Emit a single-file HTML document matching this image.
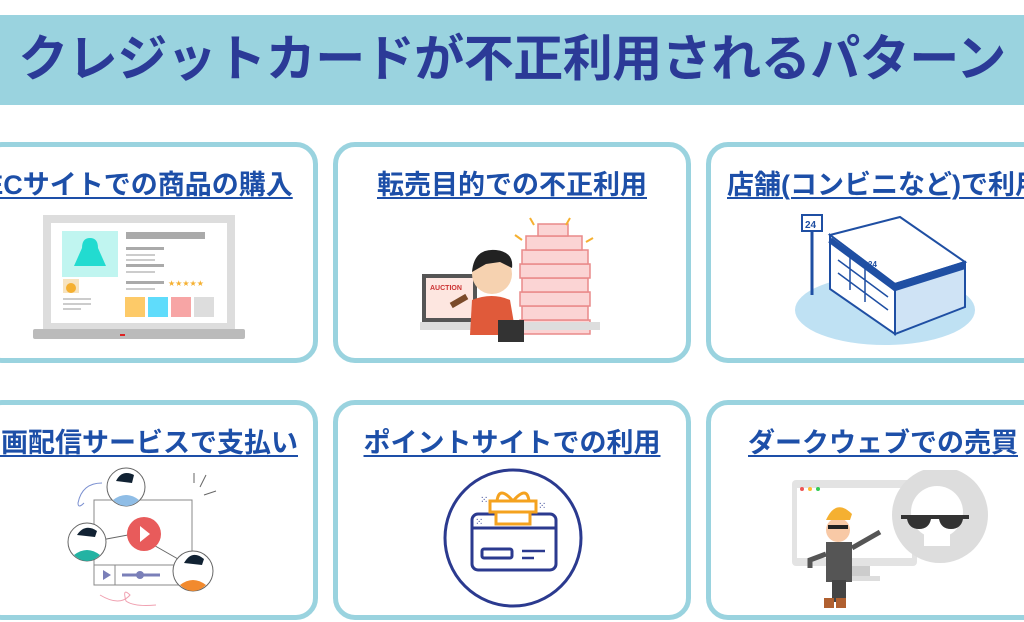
<!DOCTYPE html>
<html><head><meta charset="utf-8"><style>
body{margin:0;width:1024px;height:622px;overflow:hidden;background:#fff;position:relative;font-family:"Liberation Sans","Noto Sans CJK JP",sans-serif}
.banner{position:absolute;left:0;top:15px;width:1024px;height:90px;background:#9ad3df;}
.title{position:absolute;left:-20px;width:1064px;top:22px;text-align:center;font-size:50px;font-weight:bold;color:#2b3a97;line-height:74px;white-space:nowrap;letter-spacing:-0.5px}
.card{position:absolute;border:5px solid #9ad3df;border-radius:22px;background:#fff;box-sizing:border-box}
.lbl{position:absolute;white-space:nowrap;text-align:center;font-size:27px;font-weight:bold;color:#1d4fa8;text-decoration:underline;text-decoration-thickness:2px;text-underline-offset:3px;line-height:32px}
svg{position:absolute}
</style></head><body>
<div class="banner"></div>
<div class="title">クレジットカードが不正利用されるパターン</div>

<div class="card" style="left:-20px;top:142px;width:338px;height:221px"></div>
<div class="card" style="left:333px;top:142px;width:358px;height:221px"></div>
<div class="card" style="left:706px;top:142px;width:340px;height:221px"></div>
<div class="card" style="left:-20px;top:400px;width:338px;height:220px"></div>
<div class="card" style="left:333px;top:400px;width:358px;height:220px"></div>
<div class="card" style="left:706px;top:400px;width:340px;height:220px"></div>

<div class="lbl" style="left:-71px;width:420px;top:169px">ECサイトでの商品の購入</div>
<div class="lbl" style="left:312px;width:400px;top:169px">転売目的での不正利用</div>
<div class="lbl" style="left:727px;top:169px">店舗(コンビニなど)で利用</div>
<div class="lbl" style="left:-74px;width:420px;top:427px">動画配信サービスで支払い</div>
<div class="lbl" style="left:312px;width:400px;top:427px">ポイントサイトでの利用</div>
<div class="lbl" style="left:683px;width:400px;top:427px">ダークウェブでの売買</div>

<!-- laptop -->
<svg style="left:0;top:200px" width="330" height="160">
<rect x="43" y="15" width="192" height="115" fill="#ddd"/>
<rect x="51" y="23" width="176" height="100" fill="#fff"/>
<rect x="62" y="31" width="56" height="46" fill="#c0f5f0"/>
<path d="M90 38 q-8 0 -8 10 l-8 18 l32 0 l-8 -18 q0 -10 -8 -10z" fill="#22dbd0"/>
<rect x="63" y="79" width="16" height="14" fill="#f7e3bf"/>
<circle cx="71" cy="88" r="5" fill="#f5b031"/>
<rect x="126" y="32" width="79" height="7" fill="#aaa"/>
<rect x="126" y="47" width="38" height="3" fill="#aaa"/><rect x="126" y="54" width="29" height="2" fill="#ccc"/><rect x="126" y="59" width="29" height="2" fill="#ccc"/>
<rect x="126" y="64" width="38" height="3" fill="#aaa"/><rect x="126" y="71" width="29" height="2" fill="#ccc"/>
<rect x="126" y="81" width="38" height="3" fill="#aaa"/><rect x="126" y="88" width="29" height="2" fill="#ccc"/>
<text x="168" y="86" font-size="8" fill="#f5b031" font-family="DejaVu Sans">★★★★★</text>
<rect x="63" y="98" width="28" height="2" fill="#ccc"/><rect x="63" y="103" width="28" height="2" fill="#ccc"/><rect x="63" y="108" width="18" height="2" fill="#ccc"/>
<rect x="125" y="97" width="20" height="20" fill="#fdca68"/><rect x="148" y="97" width="20" height="20" fill="#5fdcfb"/><rect x="171" y="97" width="20" height="20" fill="#f7a5a5"/><rect x="194" y="97" width="20" height="20" fill="#ddd"/>
<rect x="33" y="129" width="212" height="10" rx="2" fill="#bbb"/>
<rect x="120" y="134" width="5" height="2" fill="#d22"/>
</svg>

<!-- reseller -->
<svg style="left:410px;top:210px" width="200" height="135">
<g stroke="#e98a8a" stroke-width="1.5" fill="#fbd4d4">
<rect x="110" y="110" width="70" height="14"/><rect x="112" y="96" width="66" height="14"/><rect x="110" y="82" width="70" height="14"/><rect x="112" y="68" width="66" height="14"/><rect x="110" y="54" width="70" height="14"/><rect x="112" y="40" width="66" height="14"/><rect x="116" y="26" width="56" height="14"/><rect x="128" y="14" width="30" height="12"/></g>
<g stroke="#f5b031" stroke-width="2"><line x1="105" y1="25" x2="112" y2="30"/><line x1="120" y1="8" x2="124" y2="15"/><line x1="160" y1="8" x2="156" y2="15"/><line x1="183" y1="28" x2="176" y2="32"/></g>
<rect x="12" y="64" width="55" height="48" fill="#555"/><rect x="16" y="68" width="47" height="40" fill="#fde6e0"/>
<text x="20" y="80" font-size="7" font-weight="bold" fill="#c33">AUCTION</text>
<rect x="10" y="112" width="180" height="8" fill="#ddd"/>
<circle cx="82" cy="64" r="20" fill="#f6d2b0"/><path d="M62 62 q2 -24 24 -22 q18 2 16 18 l-12 -6 l-14 2z" fill="#222"/>
<path d="M62 90 q20 -8 38 0 l6 35 l-46 0z" fill="#e05a3a"/>
<rect x="40" y="88" width="18" height="6" fill="#7a4a2a" transform="rotate(-30 49 91)"/>
<rect x="88" y="110" width="26" height="22" fill="#333"/>
</svg>

<!-- store -->
<svg style="left:790px;top:205px" width="190" height="145">
<ellipse cx="95" cy="105" rx="90" ry="35" fill="#bfe1f3"/>
<rect x="12" y="10" width="20" height="16" fill="#fff" stroke="#1f4fa3" stroke-width="2"/><text x="15" y="23" font-size="10" font-weight="bold" fill="#1f4fa3">24</text>
<line x1="22" y1="26" x2="22" y2="90" stroke="#1f4fa3" stroke-width="3"/>
<path d="M40 30 l70 -18 l65 45 l-70 22z" fill="#fff" stroke="#1f4fa3" stroke-width="2"/>
<path d="M40 30 l65 49 l0 50 l-65 -45z" fill="#fff" stroke="#1f4fa3" stroke-width="2"/>
<path d="M105 79 l70 -22 l0 45 l-70 27z" fill="#cfe3f5" stroke="#1f4fa3" stroke-width="2"/>
<path d="M40 35 l65 48 l70 -22" fill="none" stroke="#1f4fa3" stroke-width="6"/>
<text x="78" y="62" font-size="8" font-weight="bold" fill="#1f4fa3">24</text>
<g stroke="#1f4fa3" stroke-width="1.5" fill="none"><path d="M48 55 l50 37 M48 68 l50 37 M60 50 l0 35 M75 62 l0 35"/></g>
</svg>

<!-- streaming -->
<svg style="left:60px;top:465px" width="160" height="150">
<rect x="34" y="35" width="98" height="85" fill="#fff" stroke="#888" stroke-width="1"/>
<rect x="34" y="100" width="98" height="20" fill="#fff" stroke="#888"/>
<line x1="55" y1="100" x2="55" y2="120" stroke="#888"/>
<path d="M43 105 l8 5 l-8 5z" fill="#7a7fb8"/>
<line x1="62" y1="110" x2="100" y2="110" stroke="#7a7fb8" stroke-width="3"/><circle cx="80" cy="110" r="4" fill="#7a7fb8"/>
<line x1="72" y1="60" x2="83" y2="68" stroke="#666"/><line x1="25" y1="78" x2="68" y2="70" stroke="#666"/><line x1="90" y1="78" x2="125" y2="98" stroke="#666"/>
<circle cx="84" cy="69" r="17" fill="#e85b5b"/><path d="M80 61 l10 8 l-10 8z" fill="#fff"/>
<circle cx="66" cy="22" r="19" fill="#fff" stroke="#666"/><path d="M53 35 q13 -10 26 0 q-6 6 -13 6 q-7 0 -13 -6z" fill="#8fbde6"/><path d="M56 16 q6 -12 18 -6 l-2 8z" fill="#123"/>
<circle cx="27" cy="77" r="19" fill="#fff" stroke="#666"/><path d="M14 90 q13 -10 26 0 q-6 6 -13 6 q-7 0 -13 -6z" fill="#23b3a3"/><path d="M17 70 q8 -12 20 -4 l-2 6z" fill="#123"/>
<circle cx="133" cy="106" r="20" fill="#fff" stroke="#666"/><path d="M120 120 q13 -10 26 0 q-6 6 -13 6 q-7 0 -13 -6z" fill="#f28a2e"/><path d="M124 98 q8 -14 20 -4 l-2 6z" fill="#123"/>
<path d="M140 22 l6 -12 M134 18 l0 -10 M144 30 l12 -4" stroke="#666"/>
<path d="M42 18 q-20 0 -24 20 q0 6 6 0" fill="none" stroke="#7a8fd0"/>
<path d="M40 130 q20 12 30 0 q-8 -8 -4 6 q8 6 30 4" fill="none" stroke="#f0a0b0"/>
</svg>

<!-- point site -->
<svg style="left:440px;top:465px" width="150" height="150">
<circle cx="73" cy="73" r="68" fill="#fff" stroke="#2b3a8f" stroke-width="3"/>
<rect x="32" y="49" width="84" height="56" rx="6" fill="none" stroke="#2b3a8f" stroke-width="3"/>
<line x1="32" y1="63" x2="116" y2="63" stroke="#2b3a8f" stroke-width="3"/>
<rect x="42" y="84" width="30" height="9" rx="2" fill="none" stroke="#2b3a8f" stroke-width="3"/>
<line x1="82" y1="86" x2="105" y2="86" stroke="#2b3a8f" stroke-width="2.5"/><line x1="82" y1="93" x2="94" y2="93" stroke="#2b3a8f" stroke-width="2.5"/>
<rect x="56" y="46" width="34" height="13" fill="#fff" stroke="#f4a21f" stroke-width="3"/>
<rect x="50" y="36" width="46" height="11" fill="#fff" stroke="#f4a21f" stroke-width="3"/>
<path d="M73 36 q-14 -16 -16 0 M73 36 q14 -16 16 0" fill="none" stroke="#f4a21f" stroke-width="3"/>
<text x="40" y="38" font-size="10" fill="#2b3a8f">⁙</text><text x="98" y="44" font-size="10" fill="#2b3a8f">⁙</text><text x="35" y="60" font-size="10" fill="#2b3a8f">⁙</text>
</svg>

<!-- dark web -->
<svg style="left:790px;top:470px" width="200" height="140">
<rect x="2" y="10" width="125" height="86" rx="4" fill="#e3e3e3"/><rect x="7" y="18" width="115" height="70" fill="#fff"/>
<circle cx="12" cy="19" r="2" fill="#e55"/><circle cx="20" cy="19" r="2" fill="#fb3"/><circle cx="28" cy="19" r="2" fill="#3c5"/>
<rect x="50" y="96" width="30" height="12" fill="#ccc"/><rect x="40" y="106" width="50" height="5" fill="#ddd"/>
<circle cx="150" cy="45" r="48" fill="#ddd"/><circle cx="147" cy="42" r="26" fill="#fff"/><rect x="134" y="60" width="26" height="16" fill="#fff"/>
<path d="M111 45 l68 0 l0 4 l-6 0 q-2 10 -12 10 q-10 0 -12 -10 l-8 0 q-2 10 -12 10 q-10 0 -12 -10 l-6 0z" fill="#333"/>
<circle cx="48" cy="60" r="12" fill="#f8c9a6"/><path d="M36 50 q10 -22 26 -6 l-2 6 l-24 0z" fill="#f5b031"/>
<rect x="38" y="55" width="20" height="4" fill="#222"/>
<rect x="36" y="72" width="26" height="40" fill="#555"/><rect x="42" y="110" width="14" height="22" fill="#444"/>
<path d="M62 78 l28 -16" stroke="#555" stroke-width="5"/><path d="M36 84 l-16 6 l0 8" stroke="#555" stroke-width="5" fill="none"/>
<rect x="34" y="128" width="10" height="10" fill="#b06030"/><rect x="46" y="128" width="10" height="10" fill="#b06030"/>
</svg>
</body></html>
